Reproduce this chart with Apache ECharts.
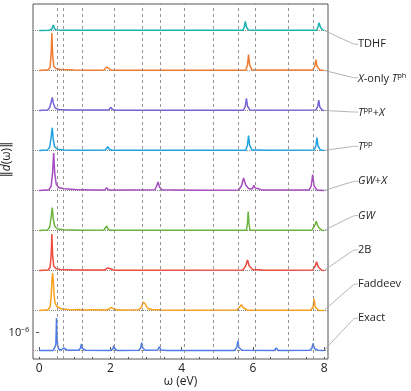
<!DOCTYPE html>
<html>
<head>
<meta charset="utf-8">
<script src="https://cdn.jsdelivr.net/npm/echarts@6/dist/echarts.min.js"></script>
<style>
  html, body { margin: 0; padding: 0; background: #fff; }
  #chart { width: 411px; height: 391px; }
</style>
</head>
<body>
<div id="chart"></div>
<script>
// spectra: [ω (eV), height above own baseline]
const exact = [[0,0.5],[0.4,0.6],[0.45,1.5],[0.47,6],[0.48,18],[0.49,33],[0.5,18],[0.52,6],[0.55,2],[0.62,1],[0.67,1.5],[0.69,3],[0.71,1.2],[0.8,0.7],[1.1,0.8],[1.16,2.5],[1.19,7],[1.22,2.5],[1.3,0.8],[2.0,0.6],[2.07,2],[2.1,5.3],[2.13,2],[2.2,0.6],[2.8,0.7],[2.85,3],[2.88,8.3],[2.91,3],[2.98,0.8],[3.33,1],[3.38,4.3],[3.42,1],[3.6,0.5],[5.48,0.6],[5.55,3.5],[5.58,10],[5.61,3.5],[5.7,0.7],[6.6,0.6],[6.66,3],[6.71,0.6],[7.6,0.7],[7.66,3],[7.69,7.7],[7.73,2.5],[7.82,0.8],[8,0.5]];
const faddeev = [[0,0.6],[0.25,1.2],[0.31,4],[0.34,14],[0.36,30],[0.38,38],[0.4,30],[0.42,16],[0.45,8],[0.5,4.5],[0.6,2.5],[0.8,1.5],[1.0,1.2],[1.11,1.6],[1.3,1],[1.48,1.3],[1.53,3.3],[1.58,1.3],[1.9,1],[1.97,2],[2.03,3.7],[2.1,2],[2.2,1],[2.8,1.2],[2.88,4],[2.92,9],[2.94,11],[2.98,7],[3.05,2.5],[3.2,1.2],[3.35,1.3],[3.39,2.2],[3.43,1],[4,0.7],[5.55,0.9],[5.62,3.5],[5.68,6.3],[5.74,3],[5.85,0.8],[7.62,0.8],[7.69,4],[7.72,12],[7.75,4],[7.84,0.8],[8,0.6]];
const twoB = [[0,0.6],[0.26,1],[0.31,4],[0.34,16],[0.36,37],[0.38,16],[0.41,5],[0.48,2.2],[0.6,1.4],[1.0,0.9],[1.85,0.9],[1.91,3],[1.95,4.6],[1.99,2.5],[2.1,0.8],[5.72,0.9],[5.8,5],[5.85,11],[5.9,5],[6.0,1.2],[6.2,1.3],[6.3,0.7],[7.68,0.9],[7.75,5],[7.79,9.3],[7.83,4.5],[7.93,0.8],[8,0.6]];
const gw = [[0,0.6],[0.24,1.1],[0.3,4],[0.34,14],[0.37,23.4],[0.4,12],[0.44,4.5],[0.52,2],[0.7,1.2],[1.2,0.8],[1.82,1],[1.87,3],[1.9,5],[1.93,2],[2.0,0.7],[5.82,0.7],[5.85,8],[5.87,19.4],[5.89,8],[5.92,0.8],[6.25,0.8],[6.28,1.6],[6.31,0.7],[7.66,0.8],[7.73,5],[7.78,9.7],[7.83,4.5],[7.93,0.8],[8,0.6]];
const gwX = [[0,0.6],[0.28,1.3],[0.34,5],[0.38,18],[0.41,38],[0.44,18],[0.48,7],[0.55,3.5],[0.7,2.2],[1.0,1.5],[1.5,1.1],[1.85,1.1],[1.9,3.3],[1.95,1.1],[2.5,0.9],[3.25,1.2],[3.3,5],[3.34,9],[3.38,4],[3.45,1.2],[3.75,1],[3.8,2.5],[3.85,1],[4.5,0.8],[5.6,1],[5.68,5],[5.74,13],[5.8,6],[5.88,2.5],[5.98,2],[6.03,5.7],[6.07,2.5],[6.15,2.5],[6.25,0.9],[7.58,1],[7.64,5],[7.68,16.4],[7.72,5],[7.8,1],[8,0.6]];
const tpp = [[0,0.6],[0.24,1.1],[0.3,4],[0.34,14],[0.37,23.3],[0.4,11],[0.44,4],[0.52,1.8],[0.7,1.1],[1.2,0.8],[1.86,1],[1.9,3],[1.93,4.3],[1.97,1.8],[2.05,0.7],[5.8,0.8],[5.85,6],[5.88,15.3],[5.91,6],[5.97,1],[6.22,0.9],[6.26,1.5],[6.3,0.7],[7.72,0.9],[7.77,5],[7.8,13.3],[7.83,5],[7.9,0.9],[8,0.6]];
const tppX = [[0,0.6],[0.24,1.1],[0.3,3.5],[0.34,9],[0.37,13.7],[0.4,8],[0.45,3],[0.55,1.5],[0.8,0.9],[1.95,0.9],[1.99,2.5],[2.02,3.7],[2.06,1.5],[2.15,0.7],[5.74,0.8],[5.79,5],[5.82,12.7],[5.85,5],[5.92,0.9],[6.17,0.8],[6.21,1.5],[6.25,0.7],[7.77,0.9],[7.82,4.5],[7.85,11],[7.88,4],[7.95,0.8],[8,0.6]];
const xOnly = [[0,0.6],[0.26,1.2],[0.31,4],[0.34,18],[0.36,38],[0.38,18],[0.41,5],[0.47,2.5],[0.6,1.6],[1.0,1],[1.5,0.8],[1.82,1],[1.87,3],[1.9,4],[1.94,2],[2.02,0.8],[5.8,0.8],[5.85,6],[5.88,16.3],[5.91,6],[5.98,0.9],[7.68,0.9],[7.74,5],[7.77,11.3],[7.8,5],[7.88,0.9],[8,0.6]];
const tdhf = [[0,0.6],[0.3,0.8],[0.36,2],[0.4,6],[0.44,2],[0.5,1.1],[0.7,0.8],[2.03,0.7],[2.07,1.6],[2.11,0.7],[5.72,0.8],[5.76,4],[5.79,9.7],[5.82,4],[5.88,0.9],[6.18,0.8],[6.22,1.4],[6.26,0.7],[7.79,0.8],[7.83,4],[7.86,8.4],[7.9,3.5],[7.97,0.9],[8,0.6]];

// bottom to top
const spectra = [exact, faddeev, twoB, gw, gwX, tpp, tppX, xOnly, tdhf];
const names = ['Exact', 'Faddeev', '2B', 'GW', 'GW+X', 'Tpp', 'Tpp+X', 'X-only Tph', 'TDHF'];
const labelTexts = ['Exact', 'Faddeev', '2B', '{i|GW}', '{i|GW}+{i|X}', '{i|T}{sup|pp}', '{i|T}{sup|pp}+{i|X}', '{i|X}-only {i|T}{sup|ph}', 'TDHF'];
const colors = ['#4f7be8', '#f8a01c', '#ec4b3f', '#6db33f', '#a64bc0', '#1fa3e0', '#7a62d6', '#ef7b30', '#18b3ae'];

// exact excitation energies (dashed guides)
const exactPoles = [0.5, 0.69, 1.2, 2.1, 2.89, 3.39, 4.08, 4.88, 5.58, 6.08, 6.99, 7.69];
const xMajorTicks = [0, 2, 4, 6, 8];
const xMinorTicks = [0, 0.5, 1, 1.5, 2, 2.5, 3, 3.5, 4, 4.5, 5, 5.5, 6, 6.5, 7, 7.5, 8];
const yTickValues = [18.3];
const yTickLabels = ['10⁻⁶'];

const spacing = 40;
const floor = 0.5; // spectrum floor drawn as dotted line
const font = 'Open Sans';

const chart = echarts.init(document.getElementById('chart'));

let series = spectra.map((pts, i) => {
  const off = i * spacing;
  const data = pts.map((p) => [p[0], p[1] + off]);
  const last = data.length - 1;
  data[last] = {
    value: data[last],
    symbol: 'circle',
    symbolSize: 1,
    label: { show: true, formatter: labelTexts[i] },
  };
  return {
    name: names[i],
    type: 'line',
    data: data,
    symbol: 'none',
    z: 3,
    silent: true,
    lineStyle: { width: 1.5, color: colors[i] },
    itemStyle: { color: colors[i] },
    label: {
      show: false,
      fontFamily: font,
      fontSize: 11,
      color: '#222',
      rich: {
        i: { fontStyle: 'italic', fontFamily: font, fontSize: 11, color: '#222' },
        sup: { fontFamily: font, fontSize: 7.5, color: '#222', verticalAlign: 'top', lineHeight: 14 },
      },
    },
    labelLayout: { x: 358, y: 44.3 + (8 - i) * 34.25, align: 'left', verticalAlign: 'middle' },
    labelLine: { show: true, length2: 4, smooth: 0.3, lineStyle: { color: '#a0a0a0', width: 0.8 } },
    markLine: {
      silent: true,
      symbol: ['none', 'none'],
      label: { show: false },
      lineStyle: { type: 'dotted', color: '#888', width: 1 },
      data: [{ yAxis: off + floor }],
      z: 1,
    },
  };
});

// dashed guides at the exact poles
series.push({
  type: 'line',
  data: [],
  z: 1,
  silent: true,
  markLine: {
    silent: true,
    symbol: ['none', 'none'],
    label: { show: false },
    lineStyle: { type: [3, 3], color: '#8a8a8a', width: 0.9 },
    data: exactPoles.map((v) => ({ xAxis: v })),
  },
});

// minor ticks on a second x axis
series.push({ type: 'line', xAxisIndex: 1, data: [], silent: true });

const option = {
  animation: false,
  backgroundColor: '#fff',
  textStyle: { fontFamily: font },
  grid: {
    left: 33,
    right: 83,
    top: 4,
    bottom: 32,
    outerBoundsMode: 'none',
    containLabel: false,
    show: true,
    borderColor: '#555',
    borderWidth: 1,
  },
  xAxis: [
    {
      type: 'value',
      min: -0.17,
      max: 8.11,
      name: 'ω (eV)',
      nameLocation: 'middle',
      nameGap: 17,
      nameMoveOverlap: false,
      nameTextStyle: { fontFamily: font, fontSize: 12, color: '#222' },
      axisLine: { show: false },
      splitLine: { show: false },
      axisTick: { show: true, inside: true, length: 4, customValues: xMajorTicks, lineStyle: { color: '#555' } },
      axisLabel: { customValues: xMajorTicks, margin: 4, fontFamily: font, fontSize: 12, color: '#222' },
    },
    {
      type: 'value',
      min: -0.17,
      max: 8.11,
      position: 'bottom',
      axisLine: { show: false },
      splitLine: { show: false },
      axisTick: { show: true, inside: true, length: 2, customValues: xMinorTicks, lineStyle: { color: '#555' } },
      axisLabel: { show: false },
    },
  ],
  yAxis: {
    type: 'value',
    min: -8,
    max: 347,
    name: '{b|‖}{i|d}(ω){b|‖}',
    nameLocation: 'middle',
    nameGap: 20,
    nameMoveOverlap: false,
    nameTextStyle: {
      fontFamily: font,
      fontSize: 12,
      color: '#222',
      padding: [0, 0, 0, 44],
      rich: {
        i: { fontStyle: 'italic', fontFamily: font, fontSize: 12, color: '#222' },
        b: { fontFamily: 'DejaVu Sans', fontSize: 12, color: '#222' },
      },
    },
    axisLine: { show: false },
    splitLine: { show: false },
    axisTick: { show: true, length: 3, customValues: yTickValues, lineStyle: { color: '#555' } },
    axisLabel: {
      customValues: yTickValues,
      formatter: (v) => yTickLabels[yTickValues.indexOf(v)] || '',
      margin: 4,
      fontFamily: font,
      fontSize: 11,
      color: '#222',
    },
  },
  series: series,
};

chart.setOption(option);
</script>
</body>
</html>
